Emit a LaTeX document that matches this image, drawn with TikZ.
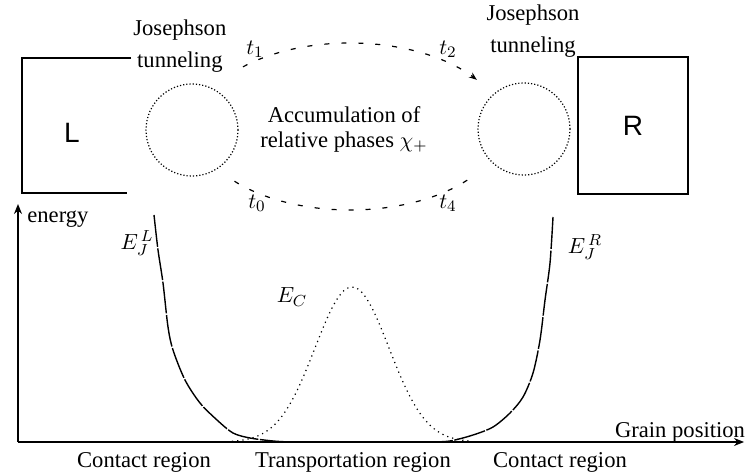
\documentclass[tikz,border=0pt]{standalone}
\usepackage{fontspec}
\setmainfont{Liberation Serif}
\setsansfont{Liberation Sans}
\usepackage{tikz}
\usetikzlibrary{positioning, arrows.meta}
\tikzset{
  lead/.style={draw, line width=0.9pt, minimum width=55pt, minimum height=68.5pt,
    inner sep=0pt, font=\sffamily\fontsize{14}{16}\selectfont},
  leadline/.style={line width=0.9pt},
  grain/.style={circle, draw, densely dotted, line width=0.6pt, minimum size=46pt, inner sep=0pt},
  cyclepath/.style={line width=0.6pt, dash pattern=on 2.5pt off 6pt},
  txt/.style={inner sep=1pt, align=center, font=\fontsize{11.3}{16}\selectfont},
  axis/.style={-{Stealth[length=5pt, width=4pt]}, line width=0.7pt},
  jcurve/.style={line width=0.7pt, dash pattern=on 16pt off 0.8pt},
  ccurve/.style={line width=0.6pt, dotted},
}

\begin{document}
\begin{tikzpicture}[x=0.5pt, y=-0.5pt]
  \useasboundingbox (0,0) rectangle (747,475);
  % leads and grains
  \coordinate (ltop) at (22,58);
  \coordinate (lbot) at (22,193);
  \coordinate (lbotend) at (127,193);
  \node[txt, anchor=west] (jl) at (131,46) {Josephson\\tunneling};
  \draw[leadline] (jl.west |- ltop) -- (ltop) -- (lbot) -- (lbotend);
  \node[font=\sffamily\fontsize{14}{16}\selectfont] (lname) at (72,133) {L};
  \node[lead] (rlead) at (633,125.5) {R};
  \node[txt] (jr) at (533,31) {Josephson\\tunneling};
  \node[grain] (lg) at (192,130) {};
  \node[grain] (rg) at (524,129) {};
  \node[txt, font=\fontsize{11.3}{12.5}\selectfont] (acc) at (344,129.5) {Accumulation of\\relative phases $\chi_+$};
  % phase cycle
  \draw[cyclepath, -{Stealth[length=4pt, width=3pt]}]
    plot[smooth, domain=225.6:326, samples=30] ({350+153*cos(\x)}, {126.5+83.5*sin(\x)});
  \draw[cyclepath]
    plot[smooth, domain=40:143, samples=30] ({350+153*cos(\x)}, {126.5+83.5*sin(\x)});
  \node[txt] (t1) at (255,49) {$t_1$};
  \node[txt] (t2) at (448,49) {$t_2$};
  \node[txt] (t0) at (257,203) {$t_0$};
  \node[txt] (t4) at (448,203) {$t_4$};
  % energy diagram
  \coordinate (orig) at (18,442);
  \coordinate (ytip) at (18,204);
  \coordinate (xtip) at (744,442);
  \draw[axis] (orig) -- (ytip);
  \draw[axis] (orig) -- (xtip);
  \node[txt, anchor=west] (elab) at (25,219) {energy};
  \node[txt, anchor=base] (gpos) at (680,437) {Grain position};
  \draw[jcurve] plot[smooth] coordinates {(154,215) (158,250) (163,283) (168,327) (173,350)
    (185,380) (200,403) (217,420) (233,433) (250,438) (273,441) (290,442)};
  \draw[jcurve] plot[smooth] coordinates {(553,217) (550,263) (545,300) (540,340) (533,373)
    (523,397) (510,413) (493,427) (473,435) (450,441) (430,442)};
  \draw[ccurve] plot[smooth, domain=232:472, samples=60] (\x, {442-155*exp(-((\x-352)/37)^2/2)});
  \node[txt] (ejl) at (137,243) {$E_J^{\,L}$};
  \node[txt] (ejr) at (585,247) {$E_J^{\,R}$};
  \node[txt] (ec) at (292,297) {$E_C$};
  \node[txt, anchor=base] (cl) at (144,467) {Contact region};
  \node[txt, anchor=base] (tr) at (353,467) {Transportation region};
  \node[txt, anchor=base] (cr) at (560,467) {Contact region};
\end{tikzpicture}
\end{document}
